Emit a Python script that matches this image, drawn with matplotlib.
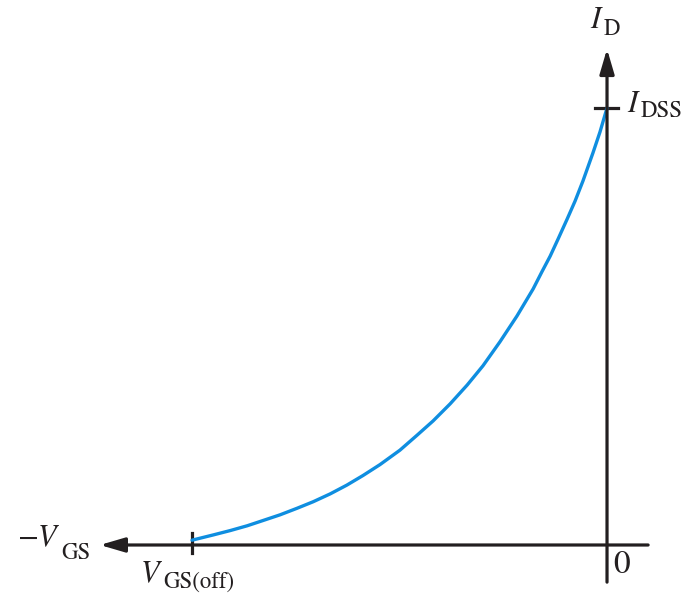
#!/usr/bin/env python3
# JFET transfer characteristic: drain current against gate-source voltage,
# both scaled so that V_GS(off) -> -1 and I_DSS -> 1
import matplotlib
matplotlib.use("Agg")
import matplotlib.pyplot as plt

# normalized gate-source voltage (V_GS / |V_GS(off)|)
vgs_norm = [-1.000, -0.949, -0.908, -0.867, -0.829, -0.788, -0.747, -0.708,
            -0.667, -0.627, -0.588, -0.547, -0.499, -0.458, -0.419, -0.378,
            -0.337, -0.299, -0.258, -0.217, -0.178, -0.157, -0.137, -0.118,
            -0.096, -0.077, -0.058, -0.034, -0.017, 0.000]
# normalized drain current (I_D / I_DSS)
id_norm = [0.011, 0.023, 0.033, 0.044, 0.056, 0.069, 0.084, 0.099,
           0.117, 0.137, 0.159, 0.184, 0.217, 0.251, 0.284, 0.323,
           0.366, 0.410, 0.465, 0.524, 0.586, 0.625, 0.661, 0.700,
           0.746, 0.787, 0.833, 0.897, 0.945, 1.000]

INK = "#231f20"
BLUE = "#0f8ee0"
FS_MAIN = 22
FS_SUB = 16.5

plt.rcParams["mathtext.fontset"] = "stix"
plt.rcParams["font.family"] = ["STIXGeneral", "DejaVu Serif"]

fig = plt.figure(figsize=(6.95, 5.97), dpi=100)
ax = fig.add_axes([0, 0, 1, 1])
ax.set_xlim(-1.4627, 0.2120)
ax.set_ylim(-0.119, 1.2471)
ax.axis("off")


def label(x, y, main, sub, drop):
    # italic symbol followed by an upright subscript, its baseline
    # `drop` px under the symbol's baseline
    t = ax.text(x, y, main, fontsize=FS_MAIN, color=INK,
                ha="left", va="baseline")
    ax.annotate(sub, xy=(1, y), xycoords=(t, "data"), xytext=(0, -drop),
                textcoords="offset pixels", fontsize=FS_SUB, color=INK,
                ha="left", va="baseline")


arrow = dict(arrowstyle="-|>,head_length=0.75,head_width=0.22",
             color=INK, lw=2.3, mutation_scale=20, shrinkA=0, shrinkB=0)

# horizontal axis (-V_GS points left) and vertical axis (I_D points up)
ax.annotate("", xy=(-1.222, 0), xytext=(0.099, 0), arrowprops=arrow)
ax.annotate("", xy=(0, 1.135), xytext=(0, -0.085), arrowprops=arrow)

# tick marks at V_GS(off) and I_DSS
ax.plot([vgs_norm[0], vgs_norm[0]], [-0.018, 0.027], color=INK, lw=2.3)
ax.plot([-0.029, 0.027], [id_norm[-1], id_norm[-1]], color=INK, lw=2.3)

# transfer curve
ax.plot(vgs_norm, id_norm, color=BLUE, lw=2.4, solid_capstyle="round",
        solid_joinstyle="round")

label(-0.041, 1.183, r"$I$", "D", 7)
label(0.048, 0.991, r"$I$", "DSS", 5)
label(-1.4217, -0.003, r"$-V$", "GS", 13)
label(-1.125, -0.0847, r"$V$", "GS(off)", 6)
ax.text(0.015, -0.012, "0", fontsize=FS_MAIN + 2, color=INK,
        ha="left", va="top")

fig.savefig("out.png", dpi=100)
plt.close(fig)
